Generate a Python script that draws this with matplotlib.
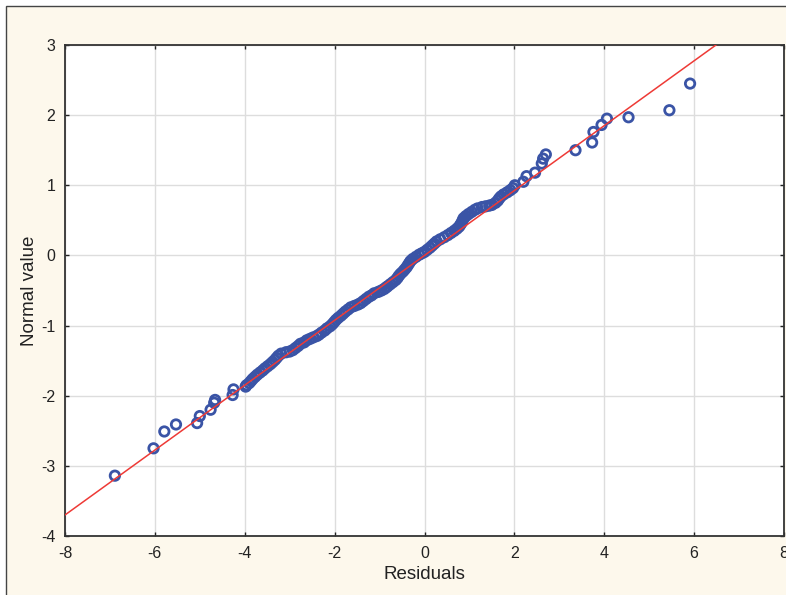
import matplotlib
matplotlib.use('Agg')
import matplotlib.pyplot as plt
from matplotlib.patches import Rectangle
import numpy as np

plt.rcParams['font.family'] = ['Liberation Sans', 'DejaVu Sans']
plt.rcParams['axes.unicode_minus'] = False

# residuals (sorted)
residuals = [
    -6.89, -6.03, -5.79, -5.53, -5.06, -5.00, -4.76, -4.68, -4.66, -4.27, -4.25, -3.98,
    -3.96, -3.90, -3.86, -3.82, -3.77, -3.72, -3.66, -3.60, -3.55, -3.49, -3.43, -3.38,
    -3.33, -3.29, -3.25, -3.19, -3.08, -3.00, -2.93, -2.87, -2.81, -2.76, -2.68, -2.62,
    -2.55, -2.48, -2.40, -2.35, -2.29, -2.22, -2.17, -2.10, -2.05, -2.01, -1.97, -1.92,
    -1.86, -1.81, -1.76, -1.70, -1.64, -1.56, -1.48, -1.42, -1.36, -1.30, -1.24, -1.18,
    -1.12, -1.03, -0.96, -0.90, -0.86, -0.82, -0.76, -0.70, -0.64, -0.60, -0.57, -0.53,
    -0.48, -0.44, -0.40, -0.37, -0.34, -0.31, -0.26, -0.19, -0.12, -0.06, 0.00, 0.06,
    0.12, 0.17, 0.22, 0.27, 0.35, 0.44, 0.52, 0.59, 0.66, 0.72, 0.77, 0.80,
    0.83, 0.85, 0.87, 0.92, 0.98, 1.05, 1.12, 1.18, 1.28, 1.36, 1.44, 1.50,
    1.58, 1.63, 1.66, 1.70, 1.76, 1.84, 1.91, 1.97, 2.01, 2.20, 2.27, 2.46,
    2.61, 2.64, 2.70, 3.36, 3.73, 3.76, 3.94, 4.06, 4.54, 5.45, 5.91,
]
# expected normal values
normal_values = [
    -3.14, -2.75, -2.51, -2.41, -2.39, -2.29, -2.20, -2.10, -2.06, -1.99, -1.91, -1.87,
    -1.85, -1.82, -1.79, -1.76, -1.73, -1.70, -1.67, -1.64, -1.61, -1.58, -1.55, -1.52,
    -1.49, -1.46, -1.43, -1.40, -1.38, -1.37, -1.35, -1.32, -1.29, -1.26, -1.24, -1.21,
    -1.19, -1.17, -1.15, -1.13, -1.10, -1.07, -1.04, -1.01, -0.98, -0.95, -0.92, -0.89,
    -0.86, -0.83, -0.80, -0.77, -0.74, -0.72, -0.70, -0.68, -0.65, -0.62, -0.59, -0.57,
    -0.54, -0.52, -0.50, -0.48, -0.46, -0.44, -0.41, -0.38, -0.35, -0.32, -0.29, -0.26,
    -0.23, -0.20, -0.17, -0.14, -0.11, -0.08, -0.05, -0.02, 0.01, 0.03, 0.05, 0.08,
    0.11, 0.14, 0.17, 0.20, 0.23, 0.26, 0.29, 0.32, 0.35, 0.38, 0.41, 0.44,
    0.47, 0.50, 0.53, 0.56, 0.59, 0.62, 0.65, 0.67, 0.69, 0.70, 0.71, 0.72,
    0.75, 0.78, 0.81, 0.84, 0.87, 0.90, 0.93, 0.96, 1.00, 1.05, 1.13, 1.18,
    1.31, 1.38, 1.44, 1.50, 1.61, 1.76, 1.86, 1.95, 1.97, 2.07, 2.45,
]

# reference line
line_slope = 0.4625
line_intercept = 0.0

x_ticks = [-8, -6, -4, -2, 0, 2, 4, 6, 8]
y_ticks = [-4, -3, -2, -1, 0, 1, 2, 3]

fig = plt.figure(figsize=(7.86, 5.95), dpi=100, facecolor='white')
# cream panel with frame on left/top
fig.add_artist(Rectangle((6 / 786, -0.1), 1.2, 1 - 6 / 595 + 0.1, transform=fig.transFigure,
                         facecolor='#fdf8ec', edgecolor='#444444', linewidth=1.0, zorder=0))

ax = fig.add_axes([65 / 786, 59 / 595, 719 / 786, 491 / 595])
ax.set_facecolor('white')

ax.scatter(residuals, normal_values, s=46, facecolors='none', edgecolors='#3a54a6',
           linewidths=2.0, zorder=3)

lx = np.array([-8, 8])
ax.plot(lx, line_slope * lx + line_intercept, color='#ee3a36', linewidth=1.1, zorder=4)

ax.set_xlim(-8, 8)
ax.set_ylim(-4, 3)
ax.set_xticks(x_ticks)
ax.set_yticks(y_ticks)
ax.grid(True, color='#dddddd', linewidth=1.0, zorder=0)
ax.set_axisbelow(True)
ax.tick_params(direction='in', length=3, width=1, top=True, right=True,
               labelsize=11.5, colors='#222222', pad=7)
for s in ax.spines.values():
    s.set_color('#333333')
    s.set_linewidth(1.3)

ax.set_xlabel('Residuals', fontsize=13.5, color='#222222', labelpad=4)
ax.set_ylabel('Normal value', fontsize=13.5, color='#222222', labelpad=2)

fig.savefig('out.png', dpi=100, facecolor=fig.get_facecolor())
